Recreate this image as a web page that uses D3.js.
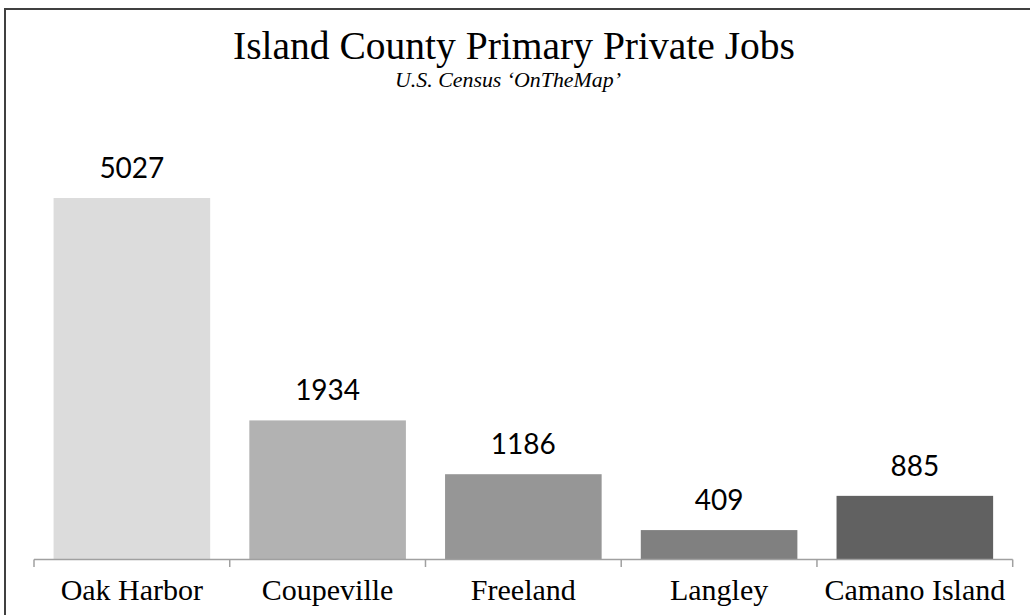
<!DOCTYPE html>
<html><head><meta charset="utf-8">
<script src="https://cdn.jsdelivr.net/npm/d3@7"></script>
<style>html,body{margin:0;padding:0;background:#fff;overflow:hidden}</style>
</head><body>
<svg id="c" width="1030" height="615"></svg>
<script>
const categories = ["Oak Harbor", "Coupeville", "Freeland", "Langley", "Camano Island"];
const jobs = [5027, 1934, 1186, 409, 885];
const barColors = ["#dcdcdc", "#b2b2b2", "#969696", "#808080", "#616161"];
const titleText = "Island County Primary Private Jobs";
const subtitleText = "U.S. Census \u2018OnTheMap\u2019";

const svg = d3.select("#c");
const W = 1030, H = 615;
svg.append("rect").attr("x", 5).attr("y", 9).attr("width", W + 10).attr("height", H + 10)
  .attr("fill", "#fff").attr("stroke", "#404040").attr("stroke-width", 2);

const x = d3.scaleBand().domain(categories).range([34, 1012.7]).padding(0);
const y = d3.scaleLinear().domain([0, 6000]).range([559.5, 128]);

function fit(sel, target) {
  const fs = parseFloat(sel.attr("font-size"));
  const w = sel.node().getComputedTextLength();
  sel.attr("font-size", (fs * target / w).toFixed(2));
}

const serif = "'Liberation Serif','Times New Roman',serif";
const t = svg.append("text").attr("x", 514).attr("y", 59).attr("text-anchor", "middle")
  .attr("font-family", serif).attr("font-size", 38).attr("fill", "#000").text(titleText);
fit(t, 562);
const st = svg.append("text").attr("x", 508).attr("y", 87).attr("text-anchor", "middle")
  .attr("font-family", serif).attr("font-style", "italic").attr("font-size", 20).attr("fill", "#000").text(subtitleText);
fit(st, 226);

const bw = x.bandwidth() * 0.8;
svg.selectAll("rect.bar").data(categories).join("rect").attr("class", "bar")
  .attr("x", d => x(d) + (x.bandwidth() - bw) / 2)
  .attr("width", bw)
  .attr("y", (d, i) => y(jobs[i]))
  .attr("height", (d, i) => y(0) - y(jobs[i]))
  .attr("fill", (d, i) => barColors[i]);

svg.selectAll("text.val").data(categories).join("text").attr("class", "val")
  .attr("x", d => x(d) + x.bandwidth() / 2)
  .attr("y", (d, i) => y(jobs[i]) - 20)
  .attr("text-anchor", "middle")
  .attr("font-family", "Lato, 'Open Sans', sans-serif").attr("font-size", 28).attr("fill", "#000")
  .text((d, i) => jobs[i]);

// axis line with ticks at band boundaries
const axisG = svg.append("g");
axisG.append("line").attr("x1", 34).attr("x2", 1012.7).attr("y1", 559.5).attr("y2", 559.5)
  .attr("stroke", "#a0a0a0").attr("stroke-width", 1.5);
const bounds = categories.map(d => x(d)).concat([x(categories[categories.length - 1]) + x.bandwidth()]);
axisG.selectAll("line.tk").data(bounds).join("line").attr("class", "tk")
  .attr("x1", d => d).attr("x2", d => d).attr("y1", 559.5).attr("y2", 567)
  .attr("stroke", "#a0a0a0").attr("stroke-width", 1.5);

svg.selectAll("text.cat").data(categories).join("text").attr("class", "cat")
  .attr("x", d => x(d) + x.bandwidth() / 2)
  .attr("y", 600)
  .attr("text-anchor", "middle")
  .attr("font-family", serif).attr("font-size", 30).attr("fill", "#000")
  .text(d => d);
</script>
</body></html>
